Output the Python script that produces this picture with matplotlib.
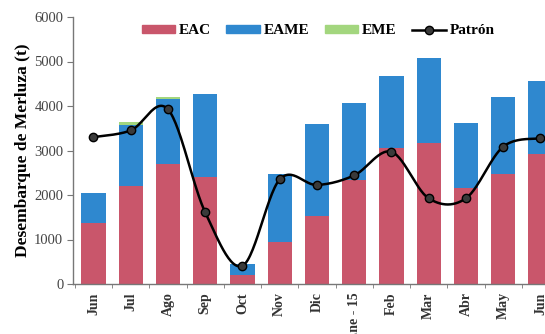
import numpy as np
import matplotlib
matplotlib.use("Agg")
import matplotlib.pyplot as plt
from matplotlib.patches import Patch
from matplotlib.lines import Line2D
from matplotlib.ticker import FixedLocator

months = ["Jun", "Jul", "Ago", "Sep", "Oct", "Nov", "Dic", "Ene - 15",
          "Feb", "Mar", "Abr", "May", "Jun"]
eac = [1380, 2200, 2700, 2410, 200, 950, 1530, 2340, 3050, 3160, 2150, 2465, 2920]
eame = [660, 1370, 1465, 1860, 250, 1520, 2065, 1720, 1620, 1910, 1475, 1745, 1650]
eme = [0, 80, 45, 0, 0, 0, 0, 0, 0, 0, 0, 0, 0]
patron = [3300, 3450, 3925, 1610, 410, 2350, 2225, 2440, 2970, 1925, 1925, 3085, 3275]
yticks = [0, 1000, 2000, 3000, 4000, 5000, 6000]

c_eac = "#C9566B"
c_eame = "#2F88CF"
c_eme = "#A3D67E"

plt.rcParams['font.family'] = ['Liberation Serif', 'DejaVu Serif']

fig = plt.figure(figsize=(5.45, 3.34), dpi=100)
ax = fig.add_axes([73/545, 1-284/334, (559-73)/545, (284-17)/334])

x = np.arange(len(months))
w = 0.65
ax.bar(x, eac, w, color=c_eac, zorder=2)
ax.bar(x, eame, w, bottom=eac, color=c_eame, zorder=2)
ax.bar(x, eme, w, bottom=np.array(eac) + np.array(eame), color=c_eme, zorder=2)

# Excel-style smoothed line through the Patrón points
px = x.astype(float)
py = np.array(patron, dtype=float)
cx, cy = [], []
t = np.linspace(0, 1, 30)
n = len(px)
for i in range(n - 1):
    p0 = np.array([px[max(i-1, 0)], py[max(i-1, 0)]])
    p1 = np.array([px[i], py[i]])
    p2 = np.array([px[i+1], py[i+1]])
    p3 = np.array([px[min(i+2, n-1)], py[min(i+2, n-1)]])
    c1 = p1 + (p2 - p0) / 6
    c2 = p2 - (p3 - p1) / 6
    b = ((1-t)**3)[:, None]*p1 + (3*(1-t)**2*t)[:, None]*c1 + (3*(1-t)*t**2)[:, None]*c2 + (t**3)[:, None]*p2
    cx.extend(b[:, 0]); cy.extend(b[:, 1])
ax.plot(cx, cy, color="black", lw=1.8, zorder=3)
ax.plot(px, py, 'o', ms=6, mfc="#3a3a3a", mec="black", mew=1.0, zorder=4)

ax.set_xlim(-0.55, 12.5)
ax.set_ylim(0, 6000)
ax.set_yticks(yticks)
ax.set_yticklabels([str(v) for v in yticks], fontsize=10.5, color="#444444")
ax.set_xticks(x)
ax.set_xticklabels(months, rotation=90, fontsize=10, fontweight="bold", color="#333333")
ax.tick_params(axis='x', length=0, pad=6)
ax.xaxis.set_minor_locator(FixedLocator(np.arange(-0.5, 13, 1)))
ax.tick_params(axis='x', which='minor', length=3, color="#777777", direction='out')
ax.tick_params(axis='y', length=4, color="#777777", direction='out', pad=3)
for s in ["top", "right"]:
    ax.spines[s].set_visible(False)
for s in ["left", "bottom"]:
    ax.spines[s].set_color("#777777")
    ax.spines[s].set_linewidth(1.0)

ax.set_ylabel("Desembarque de Merluza (t)", fontsize=12.5, fontweight="bold", labelpad=2)

handles = [Patch(color=c_eac), Patch(color=c_eame), Patch(color=c_eme),
           Line2D([0], [0], color="black", lw=1.8, marker='o', ms=6, mfc="#3a3a3a", mec="black")]
labels = ["EAC", "EAME", "EME", "Patrón"]
fig.legend(handles, labels, ncol=4, frameon=False, loc="center",
           bbox_to_anchor=(318/545, 1-31/334), prop={'weight': 'bold', 'size': 11},
           handlelength=2.2, handleheight=0.5, columnspacing=1.0, handletextpad=0.25)

fig.savefig("out.png", dpi=100)
